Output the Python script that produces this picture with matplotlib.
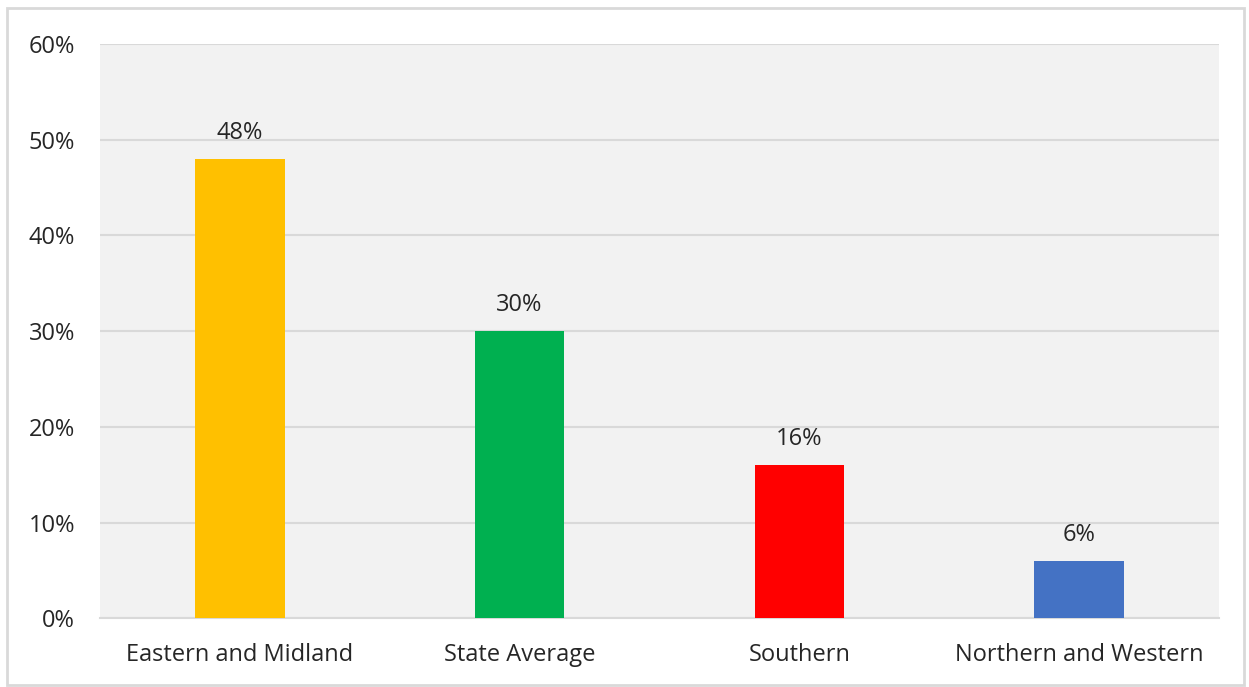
import matplotlib.pyplot as plt
from matplotlib.patches import Rectangle
from matplotlib.ticker import PercentFormatter

regions = ['Eastern and Midland', 'State Average', 'Southern', 'Northern and Western']
shares = [48, 30, 16, 6]
bar_colors = ['#ffc000', '#00b050', '#ff0000', '#4472c4']
y_ticks = [0, 10, 20, 30, 40, 50, 60]

plt.rcParams['font.family'] = ['Open Sans', 'DejaVu Sans']

fig = plt.figure(figsize=(12.49, 6.87), dpi=100)
fig.patches.append(Rectangle((0.006, 0.003), 0.99, 0.985, transform=fig.transFigure,
                             fill=False, edgecolor='#d9d9d9', linewidth=2))
ax = fig.add_axes([0.080, 0.100, 0.896, 0.836])
ax.set_facecolor('#f2f2f2')

x = range(len(regions))
bars = ax.bar(x, shares, width=0.32, color=bar_colors, zorder=3)
for bar, v in zip(bars, shares):
    ax.annotate(f'{v}%', (bar.get_x() + bar.get_width() / 2, v),
                xytext=(0, 10), textcoords='offset points',
                ha='center', va='bottom', fontsize=17, color='#262626')

ax.set_xlim(-0.5, len(regions) - 0.5)
ax.set_ylim(0, 60)
ax.set_yticks(y_ticks)
ax.yaxis.set_major_formatter(PercentFormatter(decimals=0))
ax.set_xticks(list(x))
ax.set_xticklabels(regions)
ax.tick_params(axis='both', length=0, labelsize=17, labelcolor='#262626')
ax.tick_params(axis='y', pad=18)
ax.tick_params(axis='x', pad=18)
ax.grid(axis='y', color='#d9d9d9', linewidth=1.5, zorder=0)
for side in ['top', 'right', 'left']:
    ax.spines[side].set_visible(False)
ax.spines['bottom'].set_color('#d9d9d9')
ax.spines['bottom'].set_linewidth(1.5)

fig.savefig('out.png', dpi=100)
